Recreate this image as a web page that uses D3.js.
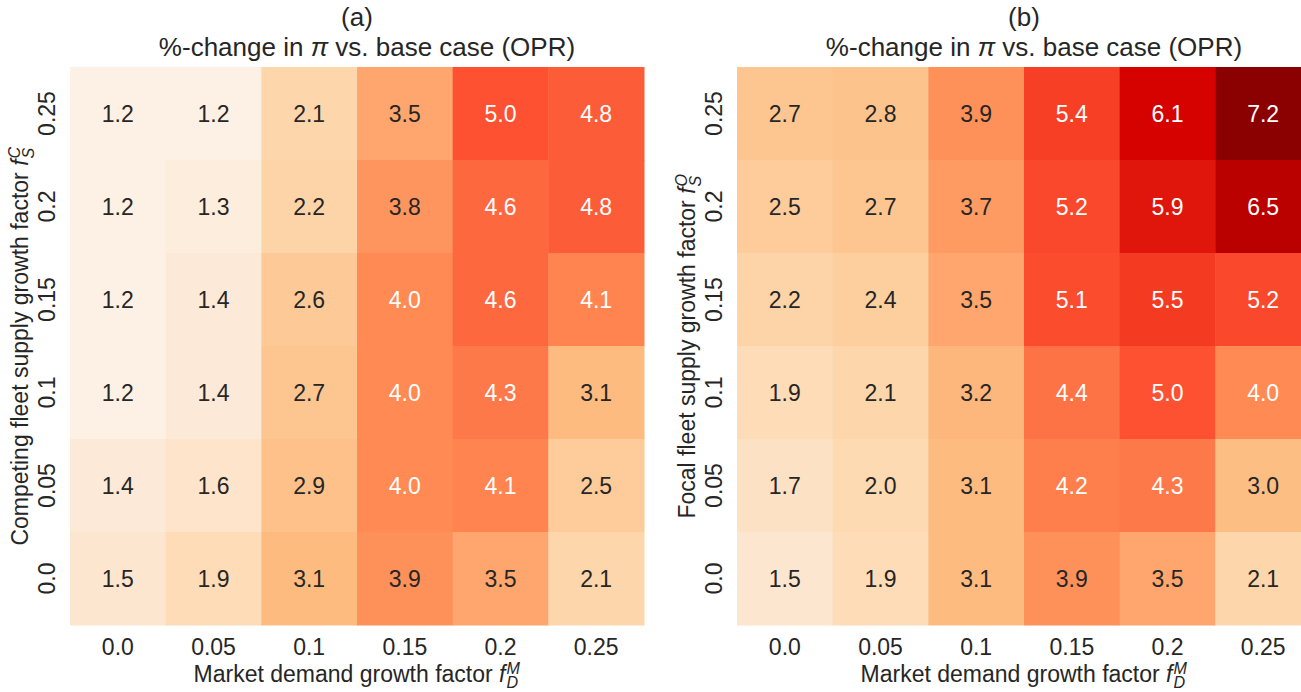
<!DOCTYPE html>
<html>
<head>
<meta charset="utf-8">
<script src="https://cdn.jsdelivr.net/npm/d3@7"></script>
<style>
  body { margin: 0; background: #fff; }
  svg { display: block; font-family: "Liberation Sans", Arial, sans-serif; }
</style>
</head>
<body>
<svg id="chart" width="1301" height="692"></svg>
<script>
// Growth-factor categories
const demandFactors = ["0.0", "0.05", "0.1", "0.15", "0.2", "0.25"];          // columns, left to right
const supplyFactors = ["0.25", "0.2", "0.15", "0.1", "0.05", "0.0"];          // rows, top to bottom

// Panel (a): %-change in profit, competing fleet supply growth (rows) x market demand growth (cols)
const competingValues = [
  [1.2, 1.2, 2.1, 3.5, 5.0, 4.8],
  [1.2, 1.3, 2.2, 3.8, 4.6, 4.8],
  [1.2, 1.4, 2.6, 4.0, 4.6, 4.1],
  [1.2, 1.4, 2.7, 4.0, 4.3, 3.1],
  [1.4, 1.6, 2.9, 4.0, 4.1, 2.5],
  [1.5, 1.9, 3.1, 3.9, 3.5, 2.1]
];

// Panel (b): %-change in profit, focal fleet supply growth (rows) x market demand growth (cols)
const focalValues = [
  [2.7, 2.8, 3.9, 5.4, 6.1, 7.2],
  [2.5, 2.7, 3.7, 5.2, 5.9, 6.5],
  [2.2, 2.4, 3.5, 5.1, 5.5, 5.2],
  [1.9, 2.1, 3.2, 4.4, 5.0, 4.0],
  [1.7, 2.0, 3.1, 4.2, 4.3, 3.0],
  [1.5, 1.9, 3.1, 3.9, 3.5, 2.1]
];

// Shared colour ramp (cream -> orange -> red -> dark red)
const colorStops = [1.2, 1.5, 2.1, 3.1, 3.9, 4.0, 5.0, 5.5, 6.1, 7.2];
const colorRamp = ["#fdf0e4", "#fde6d0", "#fdd7ab", "#fdbb80", "#fe9059", "#ff8a53", "#fd5131", "#f43a21", "#d60200", "#8b0000"];
const color = d3.scaleLinear().domain(colorStops).range(colorRamp).clamp(true);

const FONT = 23;
const TITLE_FONT = 26;
const TEXT = "#262626";
const svg = d3.select("#chart");

function luminance(c) {
  const { r, g, b } = d3.rgb(c);
  const f = v => { v /= 255; return v <= 0.03928 ? v / 12.92 : Math.pow((v + 0.055) / 1.055, 2.4); };
  return 0.2126 * f(r) + 0.7152 * f(g) + 0.0722 * f(b);
}

// Axis label of the form "text f_sub^sup" as one text element, centred on (cx, cy), optionally rotated
function mathLabel(cx, cy, angle, base, sub, sup) {
  const g = svg.append("g").attr("transform", `translate(${cx},${cy}) rotate(${angle})`);
  const t = g.append("text").attr("font-size", FONT).attr("fill", TEXT);
  const ss = FONT * 0.7;
  t.append("tspan").text(base);
  t.append("tspan").attr("font-style", "italic").text("f");
  const supSpan = t.append("tspan").attr("font-size", ss).attr("font-style", "italic")
    .attr("dx", 1).attr("dy", -FONT * 0.36).text(sup);
  const supW = supSpan.node().getComputedTextLength();
  t.append("tspan").attr("font-size", ss).attr("font-style", "italic")
    .attr("dx", -supW).attr("dy", FONT * 0.63).text(sub);
  const bb = t.node().getBBox();
  t.attr("x", -bb.width / 2 - bb.x);
  t.selectAll("tspan").filter((d, i) => i === 0).attr("x", -bb.width / 2 - bb.x);
}

function drawPanel(opts) {
  const { left, width, top, bottom, values, tag, ylabelBase, ysup } = opts;
  const x = d3.scaleBand().domain(demandFactors).range([left, left + width]);
  const y = d3.scaleBand().domain(supplyFactors).range([top, bottom]);
  const cx = left + width / 2;

  const cells = [];
  values.forEach((row, i) => row.forEach((v, j) => cells.push({ r: supplyFactors[i], c: demandFactors[j], v })));

  const g = svg.append("g");
  g.selectAll("rect").data(cells).join("rect")
    .attr("x", d => x(d.c)).attr("y", d => y(d.r))
    .attr("width", x.bandwidth() + 0.5).attr("height", y.bandwidth() + 0.5)
    .attr("fill", d => color(d.v));

  g.selectAll("text.annot").data(cells).join("text")
    .attr("class", "annot")
    .attr("x", d => x(d.c) + x.bandwidth() / 2)
    .attr("y", d => y(d.r) + y.bandwidth() / 2)
    .attr("dy", "0.36em")
    .attr("text-anchor", "middle")
    .attr("font-size", FONT)
    .attr("fill", d => luminance(color(d.v)) > 0.408 ? TEXT : "#ffffff")
    .text(d => d.v.toFixed(1));

  // x axis
  const xa = svg.append("g").attr("transform", `translate(0,${bottom})`)
    .call(d3.axisBottom(x).tickSize(0));
  xa.select(".domain").remove();
  xa.selectAll("text").attr("y", 30).attr("dy", 0).attr("font-size", FONT)
    .attr("font-family", "Liberation Sans, Arial, sans-serif").attr("fill", TEXT);

  // y axis, labels rotated
  const ya = svg.append("g").attr("transform", `translate(${left},0)`)
    .call(d3.axisLeft(y).tickSize(0));
  ya.select(".domain").remove();
  ya.selectAll("text").attr("x", 0).attr("y", 0).attr("dy", 0)
    .attr("text-anchor", "middle")
    .attr("transform", "translate(-15,0) rotate(-90)")
    .attr("font-size", FONT)
    .attr("font-family", "Liberation Sans, Arial, sans-serif").attr("fill", TEXT);

  // title
  svg.append("text").attr("x", cx).attr("y", 26).attr("text-anchor", "middle")
    .attr("font-size", TITLE_FONT).attr("fill", TEXT).text(tag);
  const tt = svg.append("text").attr("x", cx + 10).attr("y", 56).attr("text-anchor", "middle")
    .attr("font-size", TITLE_FONT).attr("fill", TEXT);
  tt.append("tspan").text("%-change in ");
  tt.append("tspan").attr("font-style", "italic").text("π");
  tt.append("tspan").text(" vs. base case (OPR)");

  mathLabel(cx, 682, 0, "Market demand growth factor ", "D", "M");
  mathLabel(left - 42, (top + bottom) / 2, -90, ylabelBase, "S", ysup);
}

drawPanel({ left: 70, width: 574, top: 67, bottom: 625, values: competingValues, tag: "(a)",
            ylabelBase: "Competing fleet supply growth factor ", ysup: "C" });
drawPanel({ left: 737, width: 574, top: 67, bottom: 625, values: focalValues, tag: "(b)",
            ylabelBase: "Focal fleet supply growth factor ", ysup: "O" });
</script>
</body>
</html>
